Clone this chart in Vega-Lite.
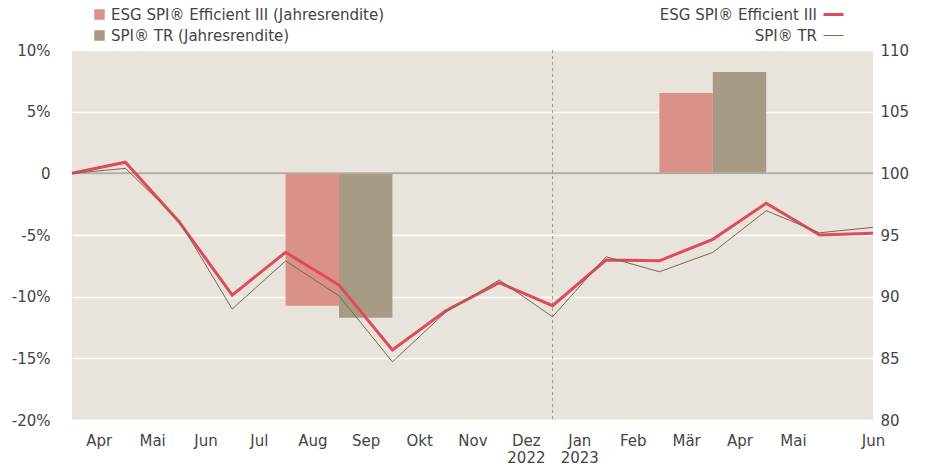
{
  "$schema": "https://vega.github.io/schema/vega-lite/v6.json",
  "width": 801,
  "height": 370,
  "autosize": "none",
  "padding": {"left": 72, "top": 50, "right": 52, "bottom": 47},
  "background": "white",
  "config": {
    "view": {"fill": "#e8e3db", "stroke": null},
    "font": "DejaVu Sans",
    "axis": {"labelFont": "DejaVu Sans", "labelFontSize": 15, "labelColor": "#444", "domain": false, "ticks": false, "title": null},
    "legend": {"labelFont": "DejaVu Sans", "labelFontSize": 15, "labelColor": "#444", "padding": 0, "offset": 0, "labelLimit": 500}
  },
  "datasets": {
    "bars": [
      {"s": "ESG SPI® Efficient III (Jahresrendite)", "x1": 4, "x2": 5, "pct": -10.74},
      {"s": "SPI® TR (Jahresrendite)", "x1": 5, "x2": 6, "pct": -11.71},
      {"s": "ESG SPI® Efficient III (Jahresrendite)", "x1": 11, "x2": 12, "pct": 6.51},
      {"s": "SPI® TR (Jahresrendite)", "x1": 12, "x2": 13, "pct": 8.22}
    ],
    "lines": [
      {"i": 0, "series": "ESG SPI® Efficient III", "v": 100},
      {"i": 1, "series": "ESG SPI® Efficient III", "v": 100.9},
      {"i": 2, "series": "ESG SPI® Efficient III", "v": 96.1},
      {"i": 3, "series": "ESG SPI® Efficient III", "v": 90.13},
      {"i": 4, "series": "ESG SPI® Efficient III", "v": 93.6},
      {"i": 5, "series": "ESG SPI® Efficient III", "v": 90.94},
      {"i": 6, "series": "ESG SPI® Efficient III", "v": 85.67},
      {"i": 7, "series": "ESG SPI® Efficient III", "v": 88.86},
      {"i": 8, "series": "ESG SPI® Efficient III", "v": 91.13},
      {"i": 9, "series": "ESG SPI® Efficient III", "v": 89.27},
      {"i": 10, "series": "ESG SPI® Efficient III", "v": 92.97},
      {"i": 11, "series": "ESG SPI® Efficient III", "v": 92.91},
      {"i": 12, "series": "ESG SPI® Efficient III", "v": 94.65},
      {"i": 13, "series": "ESG SPI® Efficient III", "v": 97.57},
      {"i": 14, "series": "ESG SPI® Efficient III", "v": 95.0},
      {"i": 15, "series": "ESG SPI® Efficient III", "v": 95.14},
      {"i": 0, "series": "SPI® TR", "v": 100},
      {"i": 1, "series": "SPI® TR", "v": 100.4},
      {"i": 2, "series": "SPI® TR", "v": 96.2},
      {"i": 3, "series": "SPI® TR", "v": 89.0},
      {"i": 4, "series": "SPI® TR", "v": 92.9},
      {"i": 5, "series": "SPI® TR", "v": 90.07},
      {"i": 6, "series": "SPI® TR", "v": 84.72},
      {"i": 7, "series": "SPI® TR", "v": 88.75},
      {"i": 8, "series": "SPI® TR", "v": 91.35},
      {"i": 9, "series": "SPI® TR", "v": 88.37},
      {"i": 10, "series": "SPI® TR", "v": 93.24},
      {"i": 11, "series": "SPI® TR", "v": 92.02},
      {"i": 12, "series": "SPI® TR", "v": 93.59},
      {"i": 13, "series": "SPI® TR", "v": 96.97},
      {"i": 14, "series": "SPI® TR", "v": 95.18},
      {"i": 15, "series": "SPI® TR", "v": 95.62}
    ],
    "zero": [{"pct": 0}],
    "divider": [{"i": 9}]
  },
  "layer": [
    {
      "data": {"name": "bars"},
      "mark": {"type": "bar"},
      "encoding": {
        "x": {
          "field": "x1", "type": "quantitative",
          "scale": {"domain": [0, 15], "nice": false, "zero": false},
          "axis": {
            "values": [0.5, 1.5, 2.5, 3.5, 4.5, 5.5, 6.5, 7.5, 8.5, 9.5, 10.5, 11.5, 12.5, 13.5, 15],
            "labelExpr": "['Apr','Mai','Jun','Jul','Aug','Sep','Okt','Nov',['Dez','2022'],['Jan','2023'],'Feb','Mär','Apr','Mai','','Jun'][floor(datum.value)]",
            "grid": false, "labelPadding": 20, "labelBaseline": "middle", "labelLineHeight": 17,
            "labelFlush": false, "labelOverlap": false, "labelBound": false
          }
        },
        "x2": {"field": "x2"},
        "y": {
          "field": "pct", "type": "quantitative",
          "scale": {"domain": [-20, 10], "nice": false},
          "axis": {
            "orient": "left",
            "values": [-20, -15, -10, -5, 0, 5, 10],
            "labelExpr": "datum.value == 0 ? '0' : datum.value + '%'",
            "grid": true, "gridColor": "#ffffff", "gridWidth": 1.5, "labelPadding": 22,
            "labelFlush": false
          }
        },
        "y2": {"datum": 0},
        "color": {
          "field": "s", "type": "nominal",
          "scale": {"domain": ["ESG SPI® Efficient III (Jahresrendite)", "SPI® TR (Jahresrendite)"], "range": ["#d9918a", "#a79b85"]},
          "legend": {"title": null, "orient": "none", "legendX": 20, "legendY": -43, "direction": "vertical", "symbolType": "square", "symbolSize": 110, "symbolStrokeWidth": 0, "rowPadding": 5}
        }
      }
    },
    {
      "data": {"name": "zero"},
      "mark": {"type": "rule", "color": "#b3aca2", "strokeWidth": 2},
      "encoding": {
        "y": {"field": "pct", "type": "quantitative", "scale": {"domain": [-20, 10], "nice": false}, "axis": null}
      }
    },
    {
      "data": {"name": "divider"},
      "mark": {"type": "rule", "color": "#9a958e", "strokeWidth": 1, "strokeDash": [3, 3]},
      "encoding": {
        "x": {"field": "i", "type": "quantitative"}
      }
    },
    {
      "data": {"name": "lines"},
      "mark": {"type": "line"},
      "encoding": {
        "x": {"field": "i", "type": "quantitative"},
        "y": {
          "field": "v", "type": "quantitative",
          "scale": {"domain": [80, 110], "nice": false, "zero": false},
          "axis": {"orient": "right", "values": [80, 85, 90, 95, 100, 105, 110], "grid": false, "labelPadding": 7, "labelFlush": false}
        },
        "color": {
          "field": "series", "type": "nominal",
          "scale": {"domain": ["ESG SPI® Efficient III", "SPI® TR"], "range": ["#e04a5b", "#7d6849"]},
          "legend": {
            "title": null, "orient": "none", "legendX": 754, "legendY": -43, "direction": "vertical",
            "symbolType": "stroke", "symbolSize": 400, "symbolStrokeWidth": 2,
            "labelAlign": "right", "labelOffset": -24, "rowPadding": 5,
            "encode": {"symbols": {"update": {"strokeWidth": {"signal": "datum.value === 'SPI® TR' ? 1 : 3"}}}}
          }
        },
        "strokeWidth": {
          "field": "series", "type": "nominal",
          "scale": {"domain": ["ESG SPI® Efficient III", "SPI® TR"], "range": [3, 1]},
          "legend": null
        },
        "order": {"field": "i"}
      }
    }
  ],
  "resolve": {"scale": {"y": "independent", "color": "independent"}}
}
